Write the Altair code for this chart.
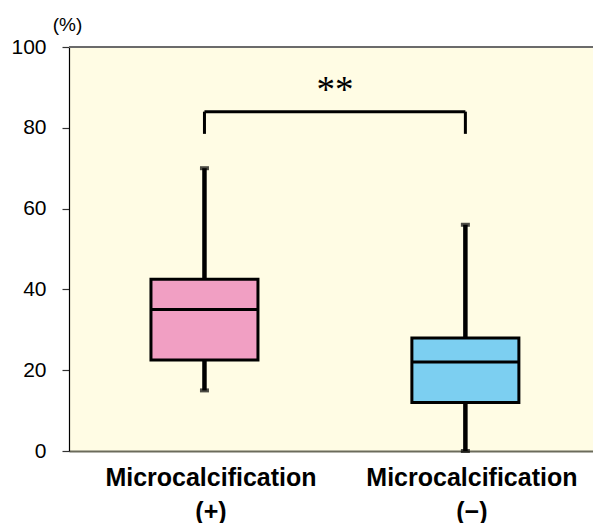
import altair as alt
import pandas as pd

# ---- data ----
categories = ["Microcalcification (+)", "Microcalcification (−)"]
label_line1 = ["Microcalcification", "Microcalcification"]
label_line2 = ["(+)", "(−)"]
whisker_low = [15, 0]
q1 = [22.5, 12]
median = [35, 22]
q3 = [42.5, 28]
whisker_high = [70, 56]
box_colors = ["#f19fc3", "#7ccff1"]

bracket_top = 84
bracket_bottom = 78.5
star_y = 90
star_text = "**"
y_ticks = [0, 20, 40, 60, 80, 100]

positions = [i + 0.5 for i in range(len(categories))]

PLOT_W = 524
CAT_STEP = 266  # pixel spacing between the two groups

df = pd.DataFrame({
    "cat": categories,
    "pos": positions,
    "lo": whisker_low,
    "q1": q1,
    "med": median,
    "q3": q3,
    "hi": whisker_high,
})

bracket_df = pd.DataFrame({
    "pos": positions,
    "top": [bracket_top] * len(positions),
    "bottom": [bracket_bottom] * len(positions),
})
hline_df = pd.DataFrame({"x1": [positions[0]], "x2": [positions[-1]], "y": [bracket_top]})
star_df = pd.DataFrame({"x": [sum(positions) / len(positions)], "y": [star_y], "t": [star_text]})

label_expr = " : ".join(
    [f"datum.value == {p} ? ['{a}', '{b}']" for p, a, b in zip(positions, label_line1, label_line2)]
    + ["''"]
)

x_scale = alt.Scale(domain=[0, PLOT_W / CAT_STEP], nice=False, zero=False)
y_scale = alt.Scale(domain=[0, 100], nice=False)

x_enc = alt.X(
    "pos:Q",
    scale=x_scale,
    axis=alt.Axis(
        values=positions,
        labelExpr=label_expr,
        title=None,
        grid=False,
        ticks=False,
        domainColor="#6b6b5b",
        domainWidth=2,
        labelFont="Liberation Sans",
        labelFontWeight="bold",
        labelFontSize=25,
        labelColor="black",
        labelLineHeight=34,
        labelPadding=14,
        labelBaseline="top",
        labelLimit=0,
        labelOffset=6,
    ),
)
y_enc_axis = alt.Axis(
    values=y_ticks,
    title="(%)",
    titleAngle=0,
    titleAlign="center",
    titleBaseline="alphabetic",
    titleX=-2,
    titleY=-17,
    titleFont="Liberation Sans",
    titleFontWeight="normal",
    titleFontSize=19,
    titleColor="black",
    grid=False,
    domainColor="black",
    domainWidth=1.2,
    tickColor="#333333",
    tickSize=7,
    tickWidth=1.2,
    labelFont="Liberation Sans",
    labelFontSize=21,
    labelColor="black",
    labelPadding=16,
)

base = alt.Chart(df)

whisker_low_rule = base.mark_rule(color="black", strokeWidth=4.5).encode(
    x=x_enc,
    y=alt.Y("lo:Q", scale=y_scale, axis=y_enc_axis),
    y2="q1:Q",
)
whisker_high_rule = base.mark_rule(color="black", strokeWidth=4.5).encode(
    x="pos:Q", y="q3:Q", y2="hi:Q"
)
cap_low = base.mark_tick(color="black", orient="horizontal", size=9, thickness=4).encode(
    x="pos:Q", y="lo:Q"
)
cap_high = base.mark_tick(color="black", orient="horizontal", size=9, thickness=4).encode(
    x="pos:Q", y="hi:Q"
)
boxes = base.mark_bar(size=107, stroke="black", strokeWidth=3).encode(
    x="pos:Q",
    y="q1:Q",
    y2="q3:Q",
    color=alt.Color("cat:N", scale=alt.Scale(domain=categories, range=box_colors), legend=None),
)
medians = base.mark_tick(color="black", orient="horizontal", size=107, thickness=3, opacity=1).encode(
    x="pos:Q", y="med:Q"
)

bracket_legs = alt.Chart(bracket_df).mark_rule(color="black", strokeWidth=3).encode(
    x="pos:Q", y="bottom:Q", y2="top:Q"
)
bracket_bar = alt.Chart(hline_df).mark_rule(color="black", strokeWidth=3).encode(
    x="x1:Q", x2="x2:Q", y="y:Q"
)
stars = alt.Chart(star_df).mark_text(
    font="Liberation Serif", fontSize=37, color="black", baseline="middle", align="center", dy=4
).encode(x="x:Q", y="y:Q", text="t:N")

top_border = alt.Chart(pd.DataFrame({"y": [100]})).mark_rule(color="#6b6b6b", strokeWidth=2).encode(
    y="y:Q"
)

chart = alt.layer(
    whisker_low_rule, whisker_high_rule, cap_low, cap_high, boxes, medians,
    bracket_legs, bracket_bar, stars, top_border,
).properties(
    width=PLOT_W,
    height=404,
    autosize=alt.AutoSizeParams(type="none"),
    padding={"left": 61, "top": 39, "right": 0, "bottom": 72},
    background="white",
).configure_view(
    fill="#fffce4",
    stroke=None,
)

chart.save("out.html", embed_options={"renderer": "svg", "actions": False})
